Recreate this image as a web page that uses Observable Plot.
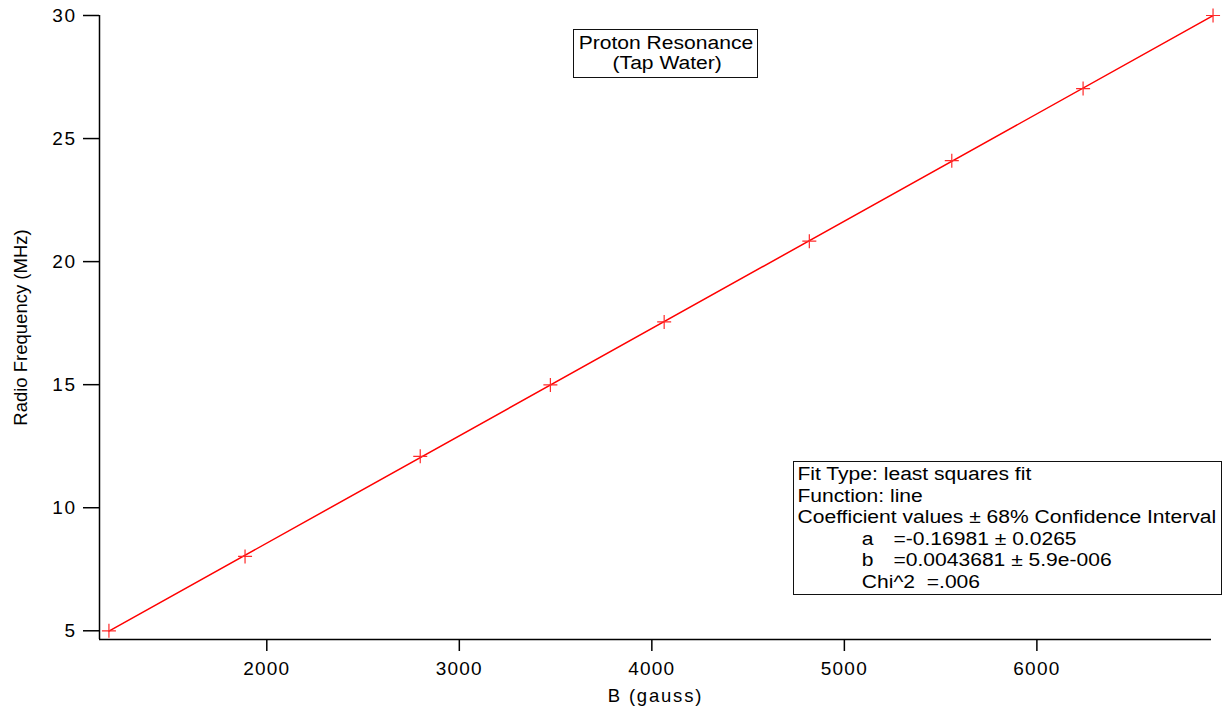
<!DOCTYPE html>
<html><head><meta charset="utf-8">
<script src="https://cdn.jsdelivr.net/npm/d3@7"></script>
<script src="https://cdn.jsdelivr.net/npm/@observablehq/plot@0.6"></script>
<style>
body{margin:0;background:#fff;}
#wrap{position:relative;width:1224px;height:707px;font-family:"Liberation Sans",Arial,sans-serif;}
.box{position:absolute;border:1.5px solid #111;background:#fff;box-sizing:border-box;overflow:hidden;}
.inner{transform:scaleX(1.17);transform-origin:0 0;font-size:18px;line-height:21.5px;white-space:pre;color:#000;}
#wrap svg g[aria-label="x-axis tick label"] text{letter-spacing:1.2px;font-size:19px;}
#wrap svg g[aria-label="y-axis tick label"] text{letter-spacing:1.5px;font-size:19px;}
#wrap svg g[aria-label="x-axis label"] text{letter-spacing:1.8px;font-size:18.5px;}
#wrap svg g[aria-label="y-axis label"] text{font-size:18.5px;}
</style></head><body><div id="wrap"></div>
<script>
const bField = [1180, 1887, 2797, 3473, 4064, 4818, 5558, 6240, 6915];
const frequency = [5.0, 8.02, 12.09, 14.99, 17.55, 20.83, 24.1, 27.03, 30.0];
const xTicks = [2000, 3000, 4000, 5000, 6000];
const yTicks = [5, 10, 15, 20, 25, 30];
const titleLines = ["Proton Resonance", "(Tap Water)"];
const fitHeader = ["Fit Type: least squares fit", "Function: line", "Coefficient values \u00b1 68% Confidence Interval"];
const fitNames = ["a", "b", "Chi^2  "];
const fitValues = ["=-0.16981 \u00b1 0.0265", "=0.0043681 \u00b1 5.9e-006", "=.006"];

const data = bField.map((b, i) => ({b, f: frequency[i]}));
const cross = {draw(ctx, size) {const r = Math.sqrt(size / Math.PI); ctx.moveTo(-r, 0); ctx.lineTo(r, 0); ctx.moveTo(0, -r); ctx.lineTo(0, r);}};
const xDom = [1131, 6907], yDom = [4.646, 30];

const chart = Plot.plot({
  width: 1224, height: 707,
  marginLeft: 99, marginRight: 13, marginTop: 15, marginBottom: 68,
  style: {fontFamily: "Liberation Sans, Arial, sans-serif", fontSize: "18px", background: "#fff", color: "#000"},
  x: {domain: xDom},
  y: {domain: yDom},
  marks: [
    Plot.axisX({ticks: xTicks, tickSize: 12, tickPadding: 10, tickFormat: d => String(d), label: "B (gauss)", labelAnchor: "center", labelArrow: "none", labelOffset: 62, strokeWidth: 1.5}),
    Plot.axisY({ticks: yTicks, tickSize: 16, tickPadding: 7, label: "Radio Frequency (MHz)", labelAnchor: "center", labelArrow: "none", labelOffset: 86, strokeWidth: 1.5}),
    Plot.ruleX([xDom[0]], {stroke: "#000", strokeWidth: 1.5}),
    Plot.ruleY([yDom[0]], {stroke: "#000", strokeWidth: 1.5}),
    Plot.linearRegressionY(data, {x: "b", y: "f", stroke: "#ff0000", strokeWidth: 1.5, ci: 0}),
    Plot.dot(data, {x: "b", y: "f", symbol: cross, r: 7, stroke: "#ff2a2a", strokeWidth: 1.2, fill: "none", clip: false})
  ]
});
const wrap = document.getElementById("wrap");
wrap.appendChild(chart);

const tb = document.createElement("div");
tb.className = "box";
Object.assign(tb.style, {left: "573px", top: "29px", width: "185px", height: "49px"});
tb.innerHTML = `<div class="inner" style="padding:3px 0 0 4px;line-height:20px">${titleLines[0]}\n<span style="margin-left:29px">${titleLines[1]}</span></div>`;
wrap.appendChild(tb);

const fb = document.createElement("div");
fb.className = "box";
Object.assign(fb.style, {left: "793px", top: "461px", width: "429px", height: "134px"});
let html = fitHeader.join("\n");
fitNames.forEach((n, i) => {
  html += `\n<span style="display:inline-block;margin-left:55px;min-width:27px">${n}</span>${fitValues[i]}`;
});
fb.innerHTML = `<div class="inner" style="padding:2px 0 0 3px">${html}</div>`;
wrap.appendChild(fb);
</script></body></html>
